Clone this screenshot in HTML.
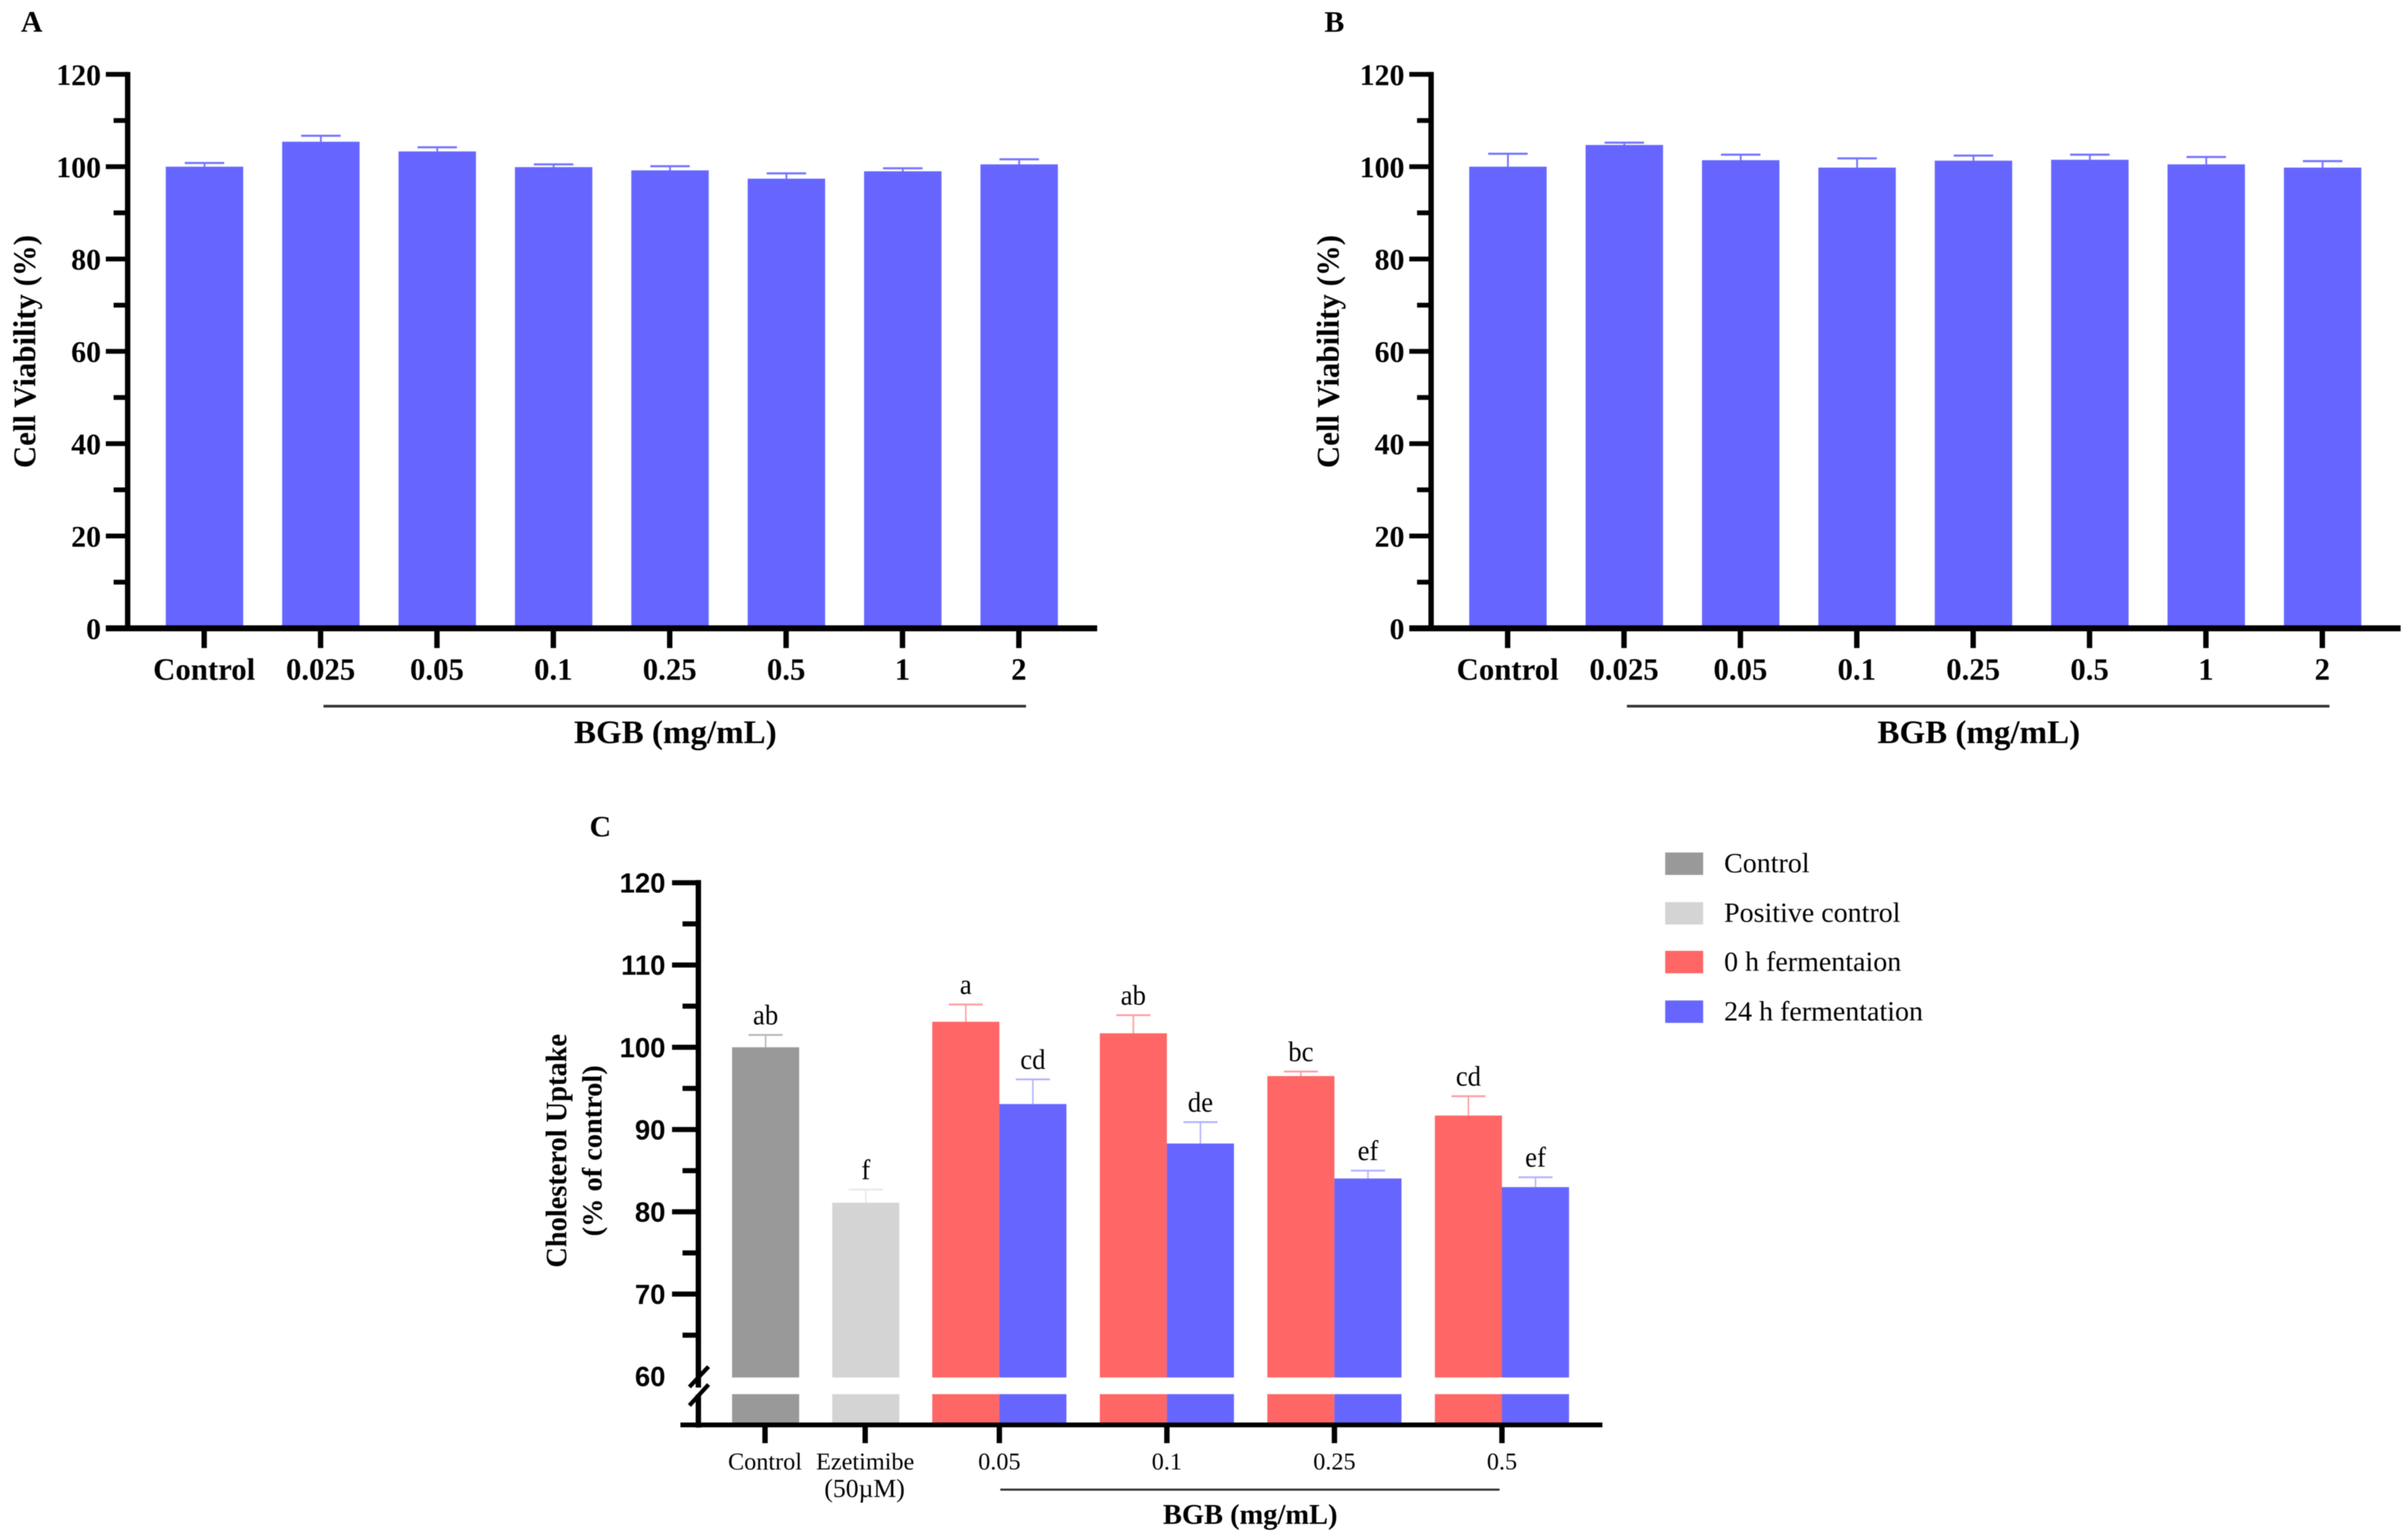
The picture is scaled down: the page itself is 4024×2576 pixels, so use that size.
<!DOCTYPE html>
<html lang="en">
<head>
<meta charset="utf-8">
<title>Cell viability and cholesterol uptake</title>
<style>
html,body{margin:0;padding:0;background:#fff;width:4024px;height:2576px;overflow:hidden}
svg{display:block;filter:blur(0.9px)}
text{font-family:"Liberation Serif",serif;fill:#000}
.b{font-weight:700}
</style>
</head>
<body>
<svg id="figure" xmlns="http://www.w3.org/2000/svg" width="4024" height="2576" viewBox="0 0 4024 2576">
  <rect x="0" y="0" width="4024" height="2576" fill="#fff"/>
  <text class="b" x="35" y="53" font-size="50">A</text>
  <text class="b" x="2215" y="53" font-size="50">B</text>
  <text class="b" x="986" y="1399" font-size="50">C</text>

  <text class="b" font-size="53" text-anchor="middle" textLength="390" lengthAdjust="spacingAndGlyphs" transform="translate(59,588) rotate(-90)">Cell Viability (%)</text>
  <text class="b" font-size="53" text-anchor="middle" textLength="390" lengthAdjust="spacingAndGlyphs" transform="translate(2239,588) rotate(-90)">Cell Viability (%)</text>
  <rect x="541" y="1179" width="1175" height="4.5" fill="#333"/>
  <rect x="2721" y="1179" width="1175" height="4.5" fill="#333"/>
  <text class="b" font-size="55" text-anchor="middle" textLength="339" lengthAdjust="spacingAndGlyphs" x="1129.5" y="1243">BGB (mg/mL)</text>
  <text class="b" font-size="55" text-anchor="middle" textLength="339" lengthAdjust="spacingAndGlyphs" x="3309.5" y="1243">BGB (mg/mL)</text>

  <text class="b" font-size="50" text-anchor="middle" textLength="391" lengthAdjust="spacingAndGlyphs" transform="translate(947,1925) rotate(-90)">Cholesterol Uptake</text>
  <text class="b" font-size="47" text-anchor="middle" textLength="286" lengthAdjust="spacingAndGlyphs" transform="translate(1006,1925) rotate(-90)">(% of control)</text>
  <rect x="1673" y="2490" width="835" height="3.5" fill="#333"/>
  <text class="b" font-size="48" text-anchor="middle" textLength="292" lengthAdjust="spacingAndGlyphs" x="2091" y="2549">BGB (mg/mL)</text>

  <g>
    <rect x="2785" y="1426" width="63.5" height="37.5" fill="#999999"/>
    <text x="2883.5" y="1459" font-size="46.8">Control</text>
    <rect x="2785" y="1509" width="63.5" height="37.5" fill="#d4d4d4"/>
    <text x="2883.5" y="1542" font-size="46.8">Positive control</text>
    <rect x="2785" y="1590.5" width="63.5" height="37.5" fill="#ff6666"/>
    <text x="2883.5" y="1624" font-size="46.8">0 h fermentaion</text>
    <rect x="2785" y="1673.5" width="63.5" height="37.5" fill="#6666ff"/>
    <text x="2883.5" y="1707" font-size="46.8">24 h fermentation</text>
  </g>
</svg>
<script>
// ---- Panels A and B data ----
const doseLabels = ['Control', '0.025', '0.05', '0.1', '0.25', '0.5', '1', '2'];
const viabilityA = [100, 105.4, 103.3, 99.9, 99.2, 97.4, 99, 100.5];
const viabilityAErr = [0.8, 1.3, 0.9, 0.6, 0.9, 1.15, 0.65, 1.1];
const viabilityB = [100, 104.7, 101.4, 99.8, 101.3, 101.5, 100.5, 99.8];
const viabilityBErr = [2.8, 0.5, 1.2, 2.0, 1.1, 1.1, 1.6, 1.4];
const viabilityMajorTicks = [0, 20, 40, 60, 80, 100, 120];
const viabilityMinorTicks = [10, 30, 50, 70, 90, 110];

// ---- Panel C data ----
const singleLabels = ['Control', 'Ezetimibe'];
const singleValues = [100, 81.1];
const singleErr = [1.5, 1.6];
const singleLetters = ['ab', 'f'];
const doseLabelsC = ['0.05', '0.1', '0.25', '0.5'];
const uptake0h = [103.1, 101.7, 96.5, 91.7];
const uptake0hErr = [2.1, 2.2, 0.55, 2.35];
const uptake0hLetters = ['a', 'ab', 'bc', 'cd'];
const uptake24h = [93.1, 88.3, 84.05, 83];
const uptake24hErr = [3.0, 2.6, 0.95, 1.2];
const uptake24hLetters = ['cd', 'de', 'ef', 'ef'];
const uptakeMajorTicks = [60, 70, 80, 90, 100, 110, 120];
const uptakeMinorTicks = [65, 75, 85, 95, 105, 115];

const svg = document.getElementById('figure');
const NS = 'http://www.w3.org/2000/svg';
function mk(tag, attrs, txt) {
  const n = document.createElementNS(NS, tag);
  for (const k in attrs) n.setAttribute(k, attrs[k]);
  if (txt !== undefined) n.textContent = txt;
  svg.appendChild(n);
  return n;
}
function box(x0, y0, x1, y1, fill) {
  return mk('rect', { x: x0, y: y0, width: x1 - x0, height: y1 - y0, fill: fill });
}

// ---- axis functions ----
function yViability(v) { return 1051 - v * 7.722; }
function xDose(i, offset) { return offset + 341.5 + i * 194.65; }
function yUptake(v) { return 1751.8 - (v - 100) * 13.76; }
function xSingle(i) { return 1280.5 + i * 167.5; }
function xGroup(i) { return 1671.4 + i * 280.2; }

function drawViabilityPanel(offset, values, errs, tag) {
  values.forEach(function (v, i) {
    const cx = xDose(i, offset) + 0.5;
    const stem = box(cx - 1.5, yViability(v + errs[i]), cx + 1.5, yViability(v), '#7474ff');
    
    
    const cap = box(cx - 33, yViability(v + errs[i]) - 1.75, cx + 33, yViability(v + errs[i]) + 1.75, '#7474ff');
    
    
    const bar = box(cx - 64.75, yViability(v), cx + 64.75, yViability(0), '#6666ff');
    
    
  });
  const yAxis = box(offset + 209, yViability(120) - 4, offset + 218, yViability(0) + 5, '#000');
  
  
  const xAxis = box(offset + 177, yViability(0) - 5, offset + 1835, yViability(0) + 5, '#000');
  
  
  viabilityMajorTicks.forEach(function (t) {
    const tick = box(offset + 177, yViability(t) - 4, offset + 214, yViability(t) + 4, '#000');
    
    
    const lab = mk('text', { x: offset + 169, y: yViability(t) + 17.5, 'text-anchor': 'end', 'font-size': 50, 'font-weight': 700 }, String(t));
    
    
  });
  viabilityMinorTicks.forEach(function (t) {
    const tick = box(offset + 190, yViability(t) - 4, offset + 214, yViability(t) + 4, '#000');
    
    
  });
  doseLabels.forEach(function (c, i) {
    const cx = xDose(i, offset);
    const tick = box(cx - 4.5, yViability(0), cx + 4.5, 1084, '#000');
    
    
    const lab = mk('text', { x: cx, y: 1137, 'text-anchor': 'middle', 'font-size': 51.5, 'font-weight': 700 }, c);
    
    
  });
}
drawViabilityPanel(0, viabilityA, viabilityAErr, 'a');
drawViabilityPanel(2180, viabilityB, viabilityBErr, 'b');

// ---- Panel C ----
const breakTop = yUptake(60) + 2;
const breakBottom = 2332;
const baseY = 2380;
function drawUptakeBar(x0, value, err, letter, fill, errFill, key, cx) {
  const upper = box(x0, yUptake(value), x0 + 112.2, breakTop, fill);
  
  
  const lower = box(x0, breakBottom, x0 + 112.2, baseY, fill);
  
  
  const stem = box(cx - 1.2, yUptake(value + err), cx + 1.2, yUptake(value), errFill);
  
  
  const cap = box(cx - 28.5, yUptake(value + err) - 1.5, cx + 28.5, yUptake(value + err) + 1.5, errFill);
  
  
  const lab = mk('text', { 'text-anchor': 'middle', 'font-size': 48, transform: 'translate(' + cx + ',' + (yUptake(value + err) - 17.5) + ') scale(0.93,1)' }, letter);
  
  
}
const singleFills = ['#999999', '#d4d4d4'];
const singleErrFills = ['#b5b5b5', '#e8e8e8'];
singleValues.forEach(function (v, i) {
  const cx = xSingle(i);
  drawUptakeBar(cx - 56.1, v, singleErr[i], singleLetters[i], singleFills[i], singleErrFills[i], singleLabels[i], cx);
});
doseLabelsC.forEach(function (d, i) {
  const gx = xGroup(i);
  drawUptakeBar(gx - 112.2, uptake0h[i], uptake0hErr[i], uptake0hLetters[i], '#ff6666', '#ff9a9a', '0h-' + d, gx - 56.1);
  drawUptakeBar(gx, uptake24h[i], uptake24hErr[i], uptake24hLetters[i], '#6666ff', '#b0b0ff', '24h-' + d, gx + 56.1);
});

const yAxisUpper = box(1163.5, yUptake(120) - 4.5, 1172.5, 2321, '#000');


const yAxisLower = box(1163.5, 2333, 1172.5, 2388, '#000');


const break1 = mk('line', { x1: 1153, y1: 2320, x2: 1185, y2: 2286, stroke: '#000', 'stroke-width': 7 });


const break2 = mk('line', { x1: 1153, y1: 2351, x2: 1185, y2: 2316, stroke: '#000', 'stroke-width': 7 });


const xAxisC = box(1138, 2379.5, 2680, 2387.5, '#000');



uptakeMajorTicks.forEach(function (t) {
  if (t !== 60) {
    const tick = box(1124, yUptake(t) - 4.25, 1168, yUptake(t) + 4.25, '#000');
    
    
  }
  const lab = mk('text', { x: 1113, y: yUptake(t) + 16.5, 'text-anchor': 'end', 'font-size': 46, 'font-weight': 700, style: 'font-family:"Liberation Sans",sans-serif' }, String(t));
  
  
});
uptakeMinorTicks.forEach(function (t) {
  const tick = box(1141.5, yUptake(t) - 4.25, 1168, yUptake(t) + 4.25, '#000');
  
  
});
function drawUptakeTick(cx, label) {
  const tick = box(cx - 4.5, 2386, cx + 4.5, 2414, '#000');
  
  
  const lab = mk('text', { x: cx, y: 2458, 'text-anchor': 'middle', 'font-size': 40.5 }, label);
  
  
}
singleLabels.forEach(function (c, i) { drawUptakeTick(xSingle(i) - 1, c); });
doseLabelsC.forEach(function (d, i) { drawUptakeTick(xGroup(i), d); });
const ezSub = mk('text', { x: 1446, y: 2504, 'text-anchor': 'middle', 'font-size': 43 }, '(50\u00B5M)');


</script>
</body>
</html>
